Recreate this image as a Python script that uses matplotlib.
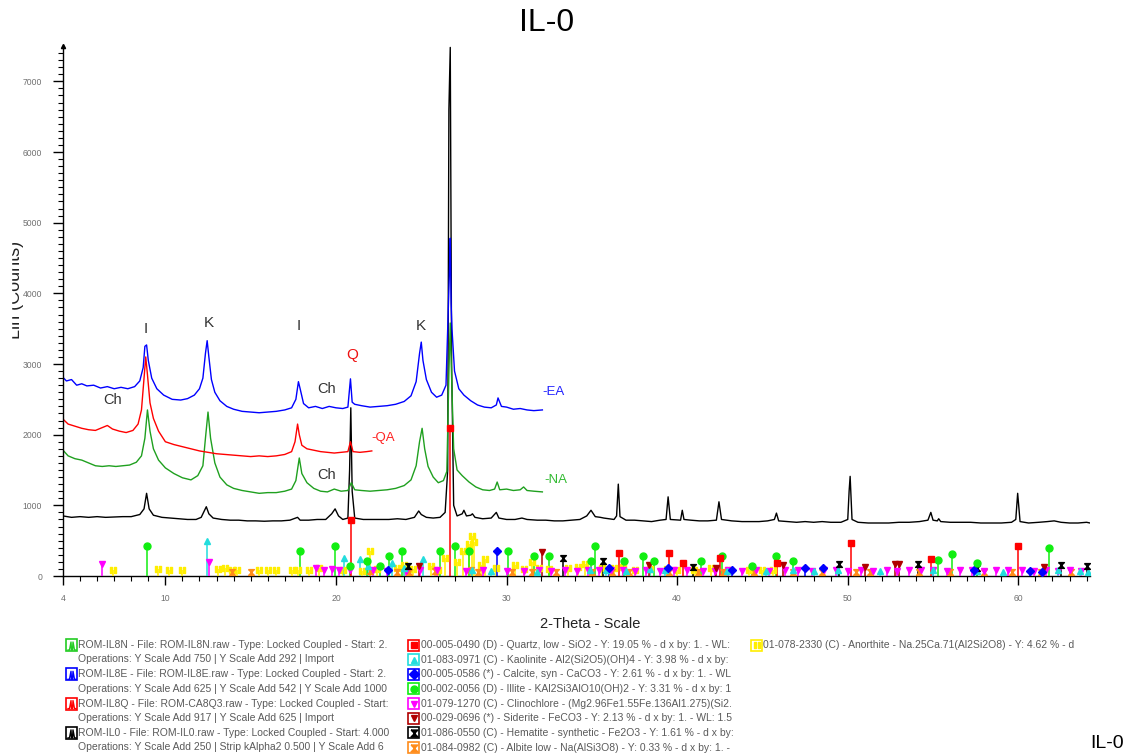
import numpy as np
import matplotlib
matplotlib.use("Agg")
import matplotlib.pyplot as plt
from matplotlib.path import Path
from matplotlib.patches import Rectangle

plt.rcParams['font.family'] = ['Liberation Sans', 'DejaVu Sans']

# --- diffractogrammi (2-theta, conteggi) ---
ea_2theta = [4.0, 4.2, 4.5, 4.8, 5.1, 5.4, 5.8, 6.2, 6.6, 7.0, 7.4, 7.8, 8.2, 8.5, 8.7, 8.8, 8.9, 9.0,
             9.2, 9.5, 9.9, 10.4, 10.9, 11.3, 11.7, 12.0, 12.2, 12.35, 12.45, 12.55, 12.7, 12.9, 13.2,
             13.6, 14.0, 14.5, 15.0, 15.5, 16.0, 16.5, 17.0, 17.4, 17.65, 17.8, 17.9, 18.1, 18.4, 18.8,
             19.2, 19.6, 20.0, 20.4, 20.7, 20.85, 20.95, 21.1, 21.5, 22.0, 22.5, 23.0, 23.5, 24.0, 24.4,
             24.7, 24.9, 25.0, 25.1, 25.3, 25.6, 25.9, 26.2, 26.45, 26.6, 26.65, 26.7, 26.75, 26.8, 26.95,
             27.2, 27.5, 27.9, 28.3, 28.7, 29.1, 29.4, 29.5, 29.7, 30.0, 30.4, 30.8, 31.2, 31.6, 32.1]
ea_counts = [2810, 2760, 2780, 2700, 2720, 2690, 2700, 2660, 2680, 2650, 2670, 2650, 2680, 2760, 2950,
             3250, 3270, 3050, 2800, 2650, 2560, 2500, 2490, 2510, 2560, 2650, 2800, 3150, 3330, 3100,
             2780, 2600, 2480, 2400, 2360, 2330, 2320, 2310, 2320, 2330, 2350, 2380, 2500, 2750, 2650,
             2440, 2380, 2400, 2370, 2400, 2380, 2370, 2390, 2790, 2460, 2430, 2410, 2390, 2400, 2410,
             2430, 2470, 2550, 2750, 3150, 3310, 3050, 2780, 2600, 2530, 2560, 2700, 3900, 4290, 4780,
             3860, 3500, 2900, 2650, 2560, 2480, 2420, 2390, 2380, 2420, 2520, 2400, 2390, 2360, 2370,
             2350, 2340, 2350]

qa_2theta = [4.0, 4.3, 4.7, 5.1, 5.5, 5.9, 6.3, 6.6, 6.9, 7.3, 7.7, 8.1, 8.4, 8.6, 8.75, 8.85, 8.95,
             9.1, 9.3, 9.6, 10.0, 10.5, 11.0, 11.5, 12.0, 12.5, 13.0, 13.5, 14.0, 14.5, 15.0, 15.5,
             16.0, 16.5, 17.0, 17.4, 17.6, 17.75, 17.85, 18.0, 18.3, 18.7, 19.1, 19.5, 19.9, 20.3,
             20.7, 20.85, 21.0, 21.4, 21.8, 22.1]
qa_counts = [2220, 2150, 2120, 2090, 2070, 2060, 2100, 2130, 2080, 2050, 2030, 2060, 2150, 2350, 2800,
             3100, 2850, 2450, 2230, 2050, 1900, 1860, 1830, 1800, 1770, 1750, 1730, 1720, 1710, 1700,
             1690, 1700, 1690, 1700, 1720, 1760, 1900, 2150, 2000, 1850, 1800, 1780, 1760, 1750, 1740,
             1750, 1760, 1900, 1760, 1750, 1760, 1770]

na_2theta = [4.0, 4.3, 4.7, 5.1, 5.5, 5.9, 6.3, 6.7, 7.1, 7.5, 7.9, 8.3, 8.6, 8.8, 8.95, 9.1, 9.3, 9.6,
             10.0, 10.5, 11.0, 11.5, 11.9, 12.2, 12.35, 12.5, 12.65, 12.9, 13.2, 13.6, 14.0, 14.5,
             15.0, 15.5, 16.0, 16.5, 17.0, 17.4, 17.65, 17.85, 18.0, 18.3, 18.7, 19.1, 19.5, 19.9,
             20.3, 20.7, 20.9, 21.1, 21.5, 22.0, 22.5, 23.0, 23.5, 24.0, 24.4, 24.7, 24.9, 25.05, 25.2,
             25.4, 25.7, 26.0, 26.3, 26.5, 26.62, 26.7, 26.78, 26.9, 27.1, 27.4, 27.8, 28.2, 28.6,
             29.0, 29.3, 29.45, 29.6, 30.0, 30.4, 30.8, 31.0, 31.2, 31.6, 32.1]
na_counts = [1780, 1700, 1660, 1640, 1600, 1560, 1550, 1560, 1550, 1560, 1570, 1610, 1700, 1950, 2350,
             2050, 1800, 1640, 1530, 1450, 1390, 1360, 1420, 1560, 1950, 2320, 1950, 1600, 1400, 1290,
             1240, 1210, 1190, 1170, 1180, 1180, 1200, 1230, 1350, 1670, 1450, 1320, 1240, 1200, 1190,
             1230, 1200, 1210, 1320, 1220, 1210, 1200, 1210, 1220, 1240, 1280, 1360, 1560, 1900, 2090,
             1800, 1550, 1400, 1320, 1350, 1480, 2870, 3580, 2800, 1800, 1500, 1420, 1330, 1260, 1220,
             1210, 1230, 1330, 1220, 1230, 1210, 1220, 1260, 1210, 1200, 1190]

il0_2theta = [4.0, 4.5, 5.0, 5.5, 6.0, 6.5, 7.0, 7.5, 8.0, 8.5, 8.75, 8.9, 9.05, 9.3, 9.8, 10.3, 10.8,
              11.3, 11.8, 12.1, 12.3, 12.4, 12.55, 12.8, 13.3, 13.8, 14.3, 14.8, 15.3, 15.8, 16.3,
              16.8, 17.3, 17.75, 17.9, 18.4, 18.9, 19.4, 19.75, 19.95, 20.15, 20.4, 20.7, 20.8, 20.87,
              20.95, 21.1, 21.6, 22.1, 22.6, 23.1, 23.6, 24.1, 24.6, 24.85, 25.0, 25.3, 25.7, 26.1,
              26.4, 26.55, 26.62, 26.7, 26.78, 26.9, 27.1, 27.4, 27.5, 27.65, 27.9, 28.0, 28.15, 28.6,
              29.1, 29.4, 29.55, 30.0, 30.5, 30.9, 31.2, 31.8, 32.3, 32.8, 33.3, 33.8, 34.3, 34.7,
              34.95, 35.2, 35.5, 35.7, 36.0, 36.3, 36.45, 36.55, 36.65, 37.0, 37.5, 38.0, 38.5, 39.0,
              39.35, 39.47, 39.6, 40.2, 40.3, 40.4, 40.8, 41.3, 41.8, 42.3, 42.45, 42.6, 43.2, 43.8,
              44.3, 44.8, 45.3, 45.7, 45.82, 45.95, 46.5, 47.0, 47.5, 48.0, 48.5, 49.0, 49.6, 50.0,
              50.08, 50.14, 50.25, 50.6, 51.2, 51.8, 52.4, 53.0, 53.6, 54.2, 54.7, 54.87, 55.0, 55.25,
              55.33, 55.45, 56.0, 56.6, 57.2, 57.8, 58.4, 59.0, 59.6, 59.85, 59.96, 60.1, 60.6, 61.2,
              61.7, 62.1, 62.5, 63.0, 63.5, 64.0, 64.2]
il0_counts = [850, 830, 840, 830, 840, 830, 835, 840, 840, 870, 950, 1170, 950, 860, 830, 820, 810,
              800, 800, 830, 930, 980, 880, 820, 800, 790, 790, 780, 780, 775, 780,
              780, 790, 830, 790, 790, 800, 800, 880, 950, 850, 800, 820, 1500, 2380,
              1200, 820, 800, 800, 800, 800, 810, 800, 830, 920, 870, 830, 820, 830,
              900, 1500, 6600, 7480, 3000, 1000, 850, 880, 930, 850, 860, 880, 830, 810,
              820, 900, 820, 800, 800, 820, 800, 790, 790, 780, 780, 790, 800, 850,
              930, 840, 830, 820, 810, 800, 850, 1300, 840, 790, 790, 780, 770, 790,
              800, 1120, 800, 790, 930, 800, 790, 780, 780, 790, 1050, 800, 780, 770,
              770, 770, 780, 800, 890, 780, 770, 760, 770, 760, 770, 760, 760, 800,
              1200, 1410, 800, 760, 750, 750, 750, 760, 760, 770, 790, 900, 790, 780,
              810, 770, 760, 760, 760, 750, 750, 750, 760, 800, 1170, 770, 750, 760,
              770, 780, 760, 750, 750, 760, 750]

# --- schede di riferimento (posizione, altezza barretta) ---
quarzo_pos = [20.86, 26.7, 36.6, 39.55, 40.35, 42.5, 45.85, 50.2, 54.9, 60.0]
quarzo_h = [790, 2100, 320, 330, 190, 260, 190, 470, 240, 420]

caolinite_pos = [12.45, 20.45, 21.4, 21.9, 23.3, 24.0, 25.1, 28.0, 29.1, 31.8, 34.9, 35.8, 37.0,
                 38.4, 39.3, 42.9, 45.2, 46.8, 48.0, 49.4, 51.9, 55.0, 57.6, 59.1, 62.3, 63.6, 64.1]
caolinite_h = [495, 260, 235, 140, 190, 120, 235, 80, 70, 60, 80, 90, 70,
               100, 80, 70, 70, 80, 70, 80, 70, 80, 70, 60, 80, 70, 60]

calcite_pos = [23.05, 29.45, 36.0, 39.45, 43.2, 47.5, 48.55, 57.4, 60.7, 61.4]
calcite_h = [90, 353, 110, 110, 90, 110, 110, 90, 70, 60]

illite_pos = [8.95, 17.9, 19.95, 20.8, 21.8, 22.6, 23.1, 23.85, 26.1, 27.0, 27.8, 30.1, 31.6,
              32.5, 34.95, 35.2, 36.9, 38.0, 38.66, 41.4, 42.6, 44.4, 45.8, 46.8, 55.3, 56.1,
              57.6, 61.8]
illite_h = [425, 355, 425, 140, 210, 140, 280, 350, 350, 425, 350, 350, 280,
            280, 212, 424, 212, 283, 212, 212, 283, 141, 283, 212, 230, 310,
            180, 390]

clinocloro_pos = [6.3, 12.55, 18.85, 19.3, 19.75, 20.2, 20.8, 22.2, 23.0, 24.1, 24.95, 25.9,
                  27.6, 28.6, 30.0, 31.0, 31.9, 32.6, 33.4, 34.1, 34.8, 35.4, 36.1, 36.8,
                  37.5, 38.2, 39.0, 39.8, 40.6, 41.5, 42.2, 43.0, 43.8, 44.6, 45.4, 46.3,
                  47.1, 47.9, 48.6, 49.3, 50.0, 50.8, 51.5, 52.3, 52.9, 53.6, 54.3, 55.0,
                  55.8, 56.6, 57.3, 58.0, 58.7, 59.4, 60.2, 60.9, 61.6, 62.3, 63.0, 63.7]
clinocloro_h = [165, 200, 110, 90, 100, 80, 90, 80, 70, 70, 90, 80,
                70, 80, 70, 70, 80, 70, 80, 70, 80, 90, 80, 90,
                70, 80, 70, 80, 80, 70, 70, 80, 70, 80, 70, 80,
                80, 70, 80, 80, 70, 80, 70, 80, 70, 80, 80, 80,
                70, 80, 80, 70, 80, 80, 80, 70, 80, 70, 80, 70]

siderite_pos = [24.85, 32.1, 38.35, 42.3, 46.2, 51.0, 52.75, 53.0, 61.5]
siderite_h = [140, 340, 150, 120, 150, 130, 170, 170, 130]

ematite_pos = [24.2, 33.3, 35.65, 40.9, 49.5, 54.1, 57.6, 62.5, 64.0]
ematite_h = [140, 250, 215, 130, 170, 170, 110, 150, 140]

albite_pos = [13.9, 15.0, 22.0, 23.6, 24.3, 25.8, 27.9, 28.3, 30.3, 31.5, 32.9, 35.0, 36.2,
              37.2, 39.5, 41.2, 42.7, 44.5, 46.8, 48.5, 50.5, 51.3, 54.2, 56.0, 58.0, 59.6,
              61.3, 63.1]
albite_h = [50, 50, 70, 60, 60, 70, 90, 60, 60, 50, 60, 50, 60,
            50, 60, 50, 60, 50, 60, 50, 60, 50, 60, 50, 60, 50,
            60, 50]

anortite_pos = [6.95, 9.55, 10.2, 11.0, 13.1, 13.5, 13.9, 14.2, 15.5, 16.0, 16.5, 17.4, 17.8,
                18.4, 19.0, 20.4, 21.5, 22.0, 22.4, 23.6, 24.0, 24.5, 25.6, 26.0, 26.4, 27.1,
                27.45, 27.8, 28.0, 28.1, 28.5, 28.75, 29.4, 30.5, 31.0, 31.5, 31.9, 32.5, 33.6,
                34.2, 34.6, 35.6, 36.3, 36.8, 37.5, 38.4, 39.4, 40.0, 41.0, 42.0, 43.0, 44.2,
                45.0, 45.6]
anortite_h = [80, 100, 80, 80, 100, 120, 80, 80, 80, 80, 80, 80, 80,
              80, 120, 80, 70, 353, 100, 120, 150, 100, 140, 90, 250, 200,
              350, 450, 560, 480, 150, 235, 120, 150, 100, 200, 120, 100, 110,
              130, 170, 120, 110, 130, 80, 100, 100, 80, 90, 110, 80, 90,
              80, 90]

# simboli personalizzati: clessidra e doppia barra
clessidra = [(-1, 1), (1, 1), (-1, -1), (1, -1), (-1, 1)]
barre_v = [(-1, -1), (-0.25, -1), (-0.25, 1), (-1, 1), (-1, -1),
           (0.25, -1), (1, -1), (1, 1), (0.25, 1), (0.25, -1)]
barre_c = [Path.MOVETO, Path.LINETO, Path.LINETO, Path.LINETO, Path.CLOSEPOLY] * 2
doppia_barra = Path(barre_v, barre_c)

fasi = [
    (anortite_pos, anortite_h, '#ffee00', doppia_barra, 5),
    (albite_pos, albite_h, '#ff8c1a', clessidra, 4.2),
    (clinocloro_pos, clinocloro_h, '#ff00ff', 'v', 5),
    (caolinite_pos, caolinite_h, '#22dddd', '^', 5),
    (ematite_pos, ematite_h, 'black', clessidra, 4.2),
    (siderite_pos, siderite_h, '#b00000', 'v', 5),
    (calcite_pos, calcite_h, '#0000ff', 'D', 4),
    (illite_pos, illite_h, '#11ee11', 'o', 5),
    (quarzo_pos, quarzo_h, '#ff0000', 's', 5),
]

fig = plt.figure(figsize=(11.31, 7.56), dpi=100)
W, H = 1131, 756
ax = fig.add_axes([63 / W, 1 - 576 / H, (1090 - 63) / W, (576 - 46) / H])

ax.plot(il0_2theta, il0_counts, color='black', lw=1.0)
ax.plot(na_2theta, na_counts, color='#1fa01f', lw=1.0)
ax.plot(qa_2theta, qa_counts, color='#ff0000', lw=1.0)
ax.plot(ea_2theta, ea_counts, color='#0000ff', lw=1.0)

for pos, h, col, mk, ms in fasi:
    ax.vlines(pos, 0, h, color=col, lw=1.1, zorder=3)
    ax.plot(pos, h, ls='none', marker=mk, ms=ms, color=col, mec=col, zorder=4)

ax.set_xlim(4, 64.2)
ax.set_ylim(0, 7500)
for s in ['top', 'right']:
    ax.spines[s].set_visible(False)
ax.spines['left'].set_linewidth(1.0)
ax.spines['bottom'].set_linewidth(1.0)

ax.set_yticks(range(0, 8000, 1000))
ax.set_yticks(range(0, 7500, 100), minor=True)
ax.set_xticks([4, 10, 20, 30, 40, 50, 60])
ax.set_xticks(range(5, 65), minor=True)
ax.tick_params(axis='y', which='major', length=7, width=1, pad=8, labelsize=6.2, labelcolor='#707070')
ax.tick_params(axis='y', which='minor', length=3.5, width=0.8)
ax.tick_params(axis='x', which='major', length=6.5, width=1, pad=6.5, labelsize=6.2, labelcolor='#707070')
ax.tick_params(axis='x', which='minor', length=3.6, width=0.8)
ax.plot([4], [7500], marker='^', ms=3, color='black', clip_on=False)

# sigle dei picchi
grigio = '#333333'
ax.text(8.85, 3500, 'I', fontsize=11, color=grigio, ha='center', va='center')
ax.text(12.55, 3580, 'K', fontsize=11, color=grigio, ha='center', va='center')
ax.text(17.8, 3540, 'I', fontsize=11, color=grigio, ha='center', va='center')
ax.text(20.95, 3130, 'Q', fontsize=11, color='#ee1111', ha='center', va='center')
ax.text(24.95, 3540, 'K', fontsize=11, color=grigio, ha='center', va='center')
ax.text(6.9, 2490, 'Ch', fontsize=10.5, color=grigio, ha='center', va='center')
ax.text(19.45, 2640, 'Ch', fontsize=10.5, color=grigio, ha='center', va='center')
ax.text(19.45, 1430, 'Ch', fontsize=10.5, color=grigio, ha='center', va='center')
ax.text(32.1, 2600, '-EA', fontsize=9.5, color='#2222ff', ha='left', va='center')
ax.text(22.1, 1950, '-QA', fontsize=9.5, color='#ff2222', ha='left', va='center')
ax.text(32.2, 1360, '-NA', fontsize=9.5, color='#33bb33', ha='left', va='center')

fig.text(547 / W, 1 - 23 / H, 'IL-0', fontsize=23, ha='center', va='center')
fig.text(590 / W, 1 - 624 / H, '2-Theta - Scale', fontsize=10.5, ha='center', va='center', color='#222222')
fig.text(1107 / W, 1 - 744 / H, 'IL-0', fontsize=14, ha='center', va='center')

# legenda in basso, in coordinate pixel
lg = fig.add_axes([0, 0, 1, 1], facecolor='none')
lg.set_xlim(0, W)
lg.set_ylim(H, 0)
lg.axis('off')

# etichetta asse y, con la parte sinistra coperta dal margine bianco
lg.text(24, 290, 'Lin (Counts)', fontsize=13, rotation=90, ha='right', va='center', color='#222222')
lg.add_patch(Rectangle((0, 200), 11, 180, color='white', zorder=5))

testo_leg = '#5a5a5a'
scansioni = [
    ('#22cc22', 'ROM-IL8N - File: ROM-IL8N.raw - Type: Locked Coupled - Start: 2.',
     'Operations: Y Scale Add 750 | Y Scale Add 292 | Import'),
    ('#0000ff', 'ROM-IL8E - File: ROM-IL8E.raw - Type: Locked Coupled - Start: 2.',
     'Operations: Y Scale Add 625 | Y Scale Add 542 | Y Scale Add 1000'),
    ('#ff0000', 'ROM-IL8Q - File: ROM-CA8Q3.raw - Type: Locked Coupled - Start:',
     'Operations: Y Scale Add 917 | Y Scale Add 625 | Import'),
    ('#000000', 'ROM-IL0 - File: ROM-IL0.raw - Type: Locked Coupled - Start: 4.000',
     'Operations: Y Scale Add 250 | Strip kAlpha2 0.500 | Y Scale Add 6'),
]
y0 = 645
for i, (col, riga1, riga2) in enumerate(scansioni):
    y = y0 + i * 29.3
    lg.add_patch(Rectangle((66, y - 6), 11, 12, fill=False, ec=col, lw=1.2))
    lg.plot([68, 69.5, 71, 71.5, 72.5, 73, 74.5, 76], [y + 5, y + 5, y - 3, y + 5, y + 5, y - 3, y + 5, y + 5],
            color=col, lw=1)
    lg.text(78, y, riga1, fontsize=7.5, color=testo_leg, va='center', ha='left')
    lg.text(78, y + 14.5, riga2, fontsize=7.5, color=testo_leg, va='center', ha='left')

schede = [
    ('#ff0000', 's', '00-005-0490 (D) - Quartz, low - SiO2 - Y: 19.05 % - d x by: 1. - WL:'),
    ('#22dddd', '^', '01-083-0971 (C) - Kaolinite - Al2(Si2O5)(OH)4 - Y: 3.98 % - d x by:'),
    ('#0000ff', 'D', '00-005-0586 (*) - Calcite, syn - CaCO3 - Y: 2.61 % - d x by: 1. - WL'),
    ('#11ee11', 'o', '00-002-0056 (D) - Illite - KAl2Si3AlO10(OH)2 - Y: 3.31 % - d x by: 1'),
    ('#ff00ff', 'v', '01-079-1270 (C) - Clinochlore - (Mg2.96Fe1.55Fe.136Al1.275)(Si2.'),
    ('#b00000', 'v', '00-029-0696 (*) - Siderite - FeCO3 - Y: 2.13 % - d x by: 1. - WL: 1.5'),
    ('#000000', clessidra, '01-086-0550 (C) - Hematite - synthetic - Fe2O3 - Y: 1.61 % - d x by:'),
    ('#ff8c1a', clessidra, '01-084-0982 (C) - Albite low - Na(AlSi3O8) - Y: 0.33 % - d x by: 1. -'),
]
for i, (col, mk, riga) in enumerate(schede):
    y = y0 + i * 14.65
    lg.add_patch(Rectangle((408, y - 5.5), 11, 11, fill=False, ec=col, lw=1.2))
    lg.plot([413.5], [y], marker=mk, ms=5, color=col, ls='none')
    lg.text(421, y, riga, fontsize=7.5, color=testo_leg, va='center', ha='left')

lg.add_patch(Rectangle((751, y0 - 5.5), 11, 11, fill=False, ec='#ffee00', lw=1.2))
lg.plot([756.5], [y0], marker=doppia_barra, ms=5, color='#ffee00', ls='none')
lg.text(763, y0, '01-078-2330 (C) - Anorthite - Na.25Ca.71(Al2Si2O8) - Y: 4.62 % - d',
        fontsize=7.5, color=testo_leg, va='center', ha='left')

fig.savefig('out.png', dpi=100)
